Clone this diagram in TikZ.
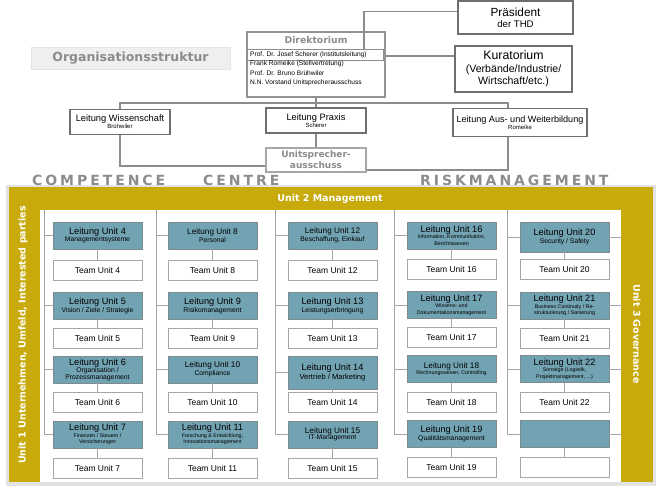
\documentclass[tikz,border=0pt]{standalone}
\usepackage{fontspec}
\setmainfont{Liberation Sans}
\newfontfamily\headfont{DejaVu Sans}
\newfontfamily\spacedfont{DejaVu Sans}[LetterSpace=21]

\definecolor{unitgold}{HTML}{C8AA0C}
\definecolor{unitteal}{HTML}{72A3B2}
\definecolor{leitrand}{HTML}{7D8A90}
\definecolor{linegray}{HTML}{A6A6A6}
\definecolor{orgrand}{HTML}{6F6F6F}
\definecolor{headgray}{HTML}{8C8C8C}
\definecolor{shadowgray}{HTML}{E2E2E2}
\definecolor{titlebg}{HTML}{EFEFEF}

\tikzset{
  leitung/.style={draw=leitrand, fill=unitteal, line width=0.8pt, minimum width=89pt, minimum height=27pt, inner sep=0.5pt, align=center, font=\fontsize{6}{6.4}\selectfont},
  team/.style={draw=linegray, fill=white, line width=0.8pt, minimum width=89pt, minimum height=20pt, inner sep=0.5pt, font=\fontsize{8.5}{9}\selectfont},
  unitline/.style={draw=linegray, line width=0.8pt},
  orgbox/.style={draw=orgrand, fill=white, line width=1.2pt, align=center, inner sep=1pt},
  orgline/.style={draw=orgrand!80, line width=1.2pt},
  bandtext/.style={text=white, font=\headfont\bfseries\fontsize{9.5}{11}\selectfont},
  spacedtext/.style={anchor=west, inner sep=0pt, text=headgray, font=\spacedfont\bfseries\fontsize{14}{16}\selectfont}
}

\newcommand{\titletext}{\fontsize{9.2}{10}\selectfont}
\newcommand{\smalltitle}{\fontsize{8.2}{9}\selectfont}
\newcommand{\subtext}{\fontsize{6.8}{7.5}\selectfont}
\newcommand{\tinytext}{\fontsize{5.3}{6}\selectfont}
\newcommand{\leitungnode}[4][]{\node at (#2) (#3) [leitung, #1] {#4};}
\newcommand{\teamnode}[3]{\node at (#1) (#2) [team] {#3};}
\newcommand{\unitlink}[2]{\draw [unitline] (#1) -- (#2);}
\newcommand{\unitbranch}[2]{\draw [unitline] (#1.west) -- (#1.west -| #2);}

\begin{document}
\begin{tikzpicture}[x=1pt, y=-1pt]
\useasboundingbox (0,0) rectangle (658,488);

% top: board and its leaders
\node at (130.5,58) (orgtitle) [fill=titlebg, draw=titlebg!90!gray, minimum width=199pt, minimum height=22pt, text=headgray, font=\headfont\bfseries\fontsize{12.5}{14}\selectfont] {Organisationsstruktur};

\node at (316,64.5) (dir) [orgbox, draw=orgrand!75, minimum width=138pt, minimum height=65pt] {};
\node at (316,40.5) (dirtitle) [text=headgray, font=\headfont\bfseries\fontsize{9.3}{11}\selectfont] {Direktorium};
\draw [orgline, line width=0.9pt] (247,49) rectangle (383,60.5);
\node at (250,51.5) (dirmembers) [anchor=north west, align=left, inner sep=0pt, font=\fontsize{6.6}{9.3}\selectfont] {Prof. Dr. Josef Scherer (Institutsleitung)\\Frank Romeike (Stellvertretung)\\Prof. Dr. Bruno Brühwiler\\N.N. Vorstand Unitsprecherausschuss};
\coordinate (dirhead) at (364,49);

\node at (515.5,17.5) (praes) [orgbox, minimum width=115pt, minimum height=33pt, font=\fontsize{9.6}{11}\selectfont] {{\fontsize{11.8}{13}\selectfont Präsident}\\der THD};
\node at (513.5,69) (kura) [orgbox, minimum width=117pt, minimum height=46pt, font=\fontsize{10.6}{12.5}\selectfont] {{\fontsize{12.3}{13}\selectfont Kuratorium}\\(Verbände/Industrie/\\Wirtschaft/etc.)};

\node at (120,122) (wiss) [orgbox, minimum width=100pt, minimum height=25pt, font=\fontsize{6}{7}\selectfont] {{\fontsize{9.3}{10}\selectfont Leitung Wissenschaft}\\Brühwiler};
\node at (316,120.5) (praxis) [orgbox, minimum width=100pt, minimum height=25pt, font=\fontsize{6}{7}\selectfont] {{\fontsize{9.3}{10}\selectfont Leitung Praxis}\\Scherer};
\node at (520,122.5) (aus) [orgbox, minimum width=134pt, minimum height=28pt, font=\fontsize{6}{7}\selectfont] {{\fontsize{9.1}{10}\selectfont Leitung Aus- und Weiterbildung}\\Romeike};
\node at (316,160) (sprecher) [orgbox, draw=linegray, minimum width=100pt, minimum height=24pt, text=headgray, font=\headfont\bfseries\fontsize{9}{11}\selectfont] {Unitsprecher-\\ausschuss};
\coordinate (split) at (316,103);

\draw [orgline] ([yshift=6pt]praes.west) -| (dirhead);
\draw [orgline] ([yshift=8.5pt]dir.east) -- ([yshift=8.5pt]dir.east -| kura.west);
\draw [orgline] (dir.south) -- (praxis.north);
\draw [orgline] (wiss.north) |- (split) -| ([xshift=-12pt]aus.north);
\draw [orgline] (praxis.south) -- (sprecher.north);
\draw [orgline] (wiss.south) |- ([yshift=-6pt]sprecher.west);
\draw [orgline] ([xshift=-12pt]aus.south) |- ([yshift=-10pt]sprecher.east);

\node at (32,180.5) (wcompetence) [spacedtext] {COMPETENCE};
\node at (203,180.5) (wcentre) [spacedtext] {CENTRE};
\node at (420,180.5) (wrisk) [spacedtext] {RISKMANAGEMENT};

% frame of the units
\fill [shadowgray] (6,185) rectangle (656,486);
\fill [unitgold] (9,187) rectangle (653,482);
\fill [white] (40,210) rectangle (621,482);
\node at (330,198.5) (mgmt) [bandtext] {Unit 2 Management};
\node at (23,335) (umfeld) [bandtext, rotate=90] {Unit 1 Unternehmen, Umfeld, Interested parties};
\node at (637,334) (gov) [bandtext, rotate=-90] {Unit 3 Governance};

\coordinate (trunkA) at (44,210);
\coordinate (trunkB) at (156,210);
\coordinate (trunkC) at (275,210);
\coordinate (trunkD) at (394,210);
\coordinate (trunkE) at (507,210);
\coordinate (govedge) at (622,210);

% column 1
\leitungnode{97.5,235.5}{L4}{\titletext Leitung Unit 4\\\subtext Managementsysteme}
\teamnode{97.5,270}{T4}{Team Unit 4}
\leitungnode{97.5,305.5}{L5}{\titletext Leitung Unit 5\\\subtext Vision / Ziele / Strategie}
\teamnode{97.5,338}{T5}{Team Unit 5}
\leitungnode{97.5,369.5}{L6}{\titletext Leitung Unit 6\\\subtext Organisation /\\\subtext Prozessmanagement}
\teamnode{97.5,402}{T6}{Team Unit 6}
\leitungnode{97.5,434.5}{L7}{\titletext Leitung Unit 7\\\tinytext Finanzen / Steuern /\\\tinytext Versicherungen}
\teamnode{97.5,468}{T7}{Team Unit 7}

% column 2
\leitungnode{212.5,235.5}{L8}{\smalltitle Leitung Unit 8\\\subtext Personal}
\teamnode{212.5,270}{T8}{Team Unit 8}
\leitungnode{212.5,305.5}{L9}{\titletext Leitung Unit 9\\\subtext Risikomanagement}
\teamnode{212.5,338}{T9}{Team Unit 9}
\leitungnode{212.5,369.5}{L10}{\smalltitle Leitung Unit 10\\\subtext Compliance}
\teamnode{212.5,402}{T10}{Team Unit 10}
\leitungnode{212.5,434.5}{L11}{\titletext Leitung Unit 11\\\tinytext Forschung \& Entwicklung,\\\tinytext Innovationsmanagement}
\teamnode{212.5,468}{T11}{Team Unit 11}

% column 3
\leitungnode{332.5,235.5}{L12}{\smalltitle Leitung Unit 12\\\subtext Beschaffung, Einkauf}
\teamnode{332.5,270}{T12}{Team Unit 12}
\leitungnode{332.5,305.5}{L13}{\titletext Leitung Unit 13\\\subtext Leistungserbringung}
\teamnode{332.5,338}{T13}{Team Unit 13}
\leitungnode[minimum height=33pt]{332.5,372.5}{L14}{\titletext Leitung Unit 14\\\fontsize{7.6}{8}\selectfont Vertrieb / Marketing}
\teamnode{332.5,402.5}{T14}{Team Unit 14}
\leitungnode{332.5,434.5}{L15}{\smalltitle Leitung Unit 15\\\subtext IT-Management}
\teamnode{332.5,468}{T15}{Team Unit 15}

% column 4
\leitungnode{451.5,235.5}{L16}{\titletext Leitung Unit 16\\\tinytext Information, Kommunikation,\\\tinytext Berichtswesen}
\teamnode{451.5,269.5}{T16}{Team Unit 16}
\leitungnode{451.5,305}{L17}{\titletext Leitung Unit 17\\\tinytext Wissens- und\\\tinytext Dokumentationsmanagement}
\teamnode{451.5,337.5}{T17}{Team Unit 17}
\leitungnode{451.5,369}{L18}{\smalltitle Leitung Unit 18\\\tinytext Rechnungswesen, Controlling}
\teamnode{451.5,402}{T18}{Team Unit 18}
\leitungnode{451.5,434}{L19}{\titletext Leitung Unit 19\\\subtext Qualitätsmanagement}
\teamnode{451.5,467.5}{T19}{Team Unit 19}

% column 5
\leitungnode[minimum height=30pt]{564.5,237}{L20}{\titletext Leitung Unit 20\\\subtext Security / Safety}
\teamnode{564.5,269.5}{T20}{Team Unit 20}
\leitungnode{564.5,305.5}{L21}{\titletext Leitung Unit 21\\\tinytext Business Continuity / Re-\\\tinytext strukturierung / Sanierung}
\teamnode{564.5,338}{T21}{Team Unit 21}
\leitungnode{564.5,369}{L22}{\titletext Leitung Unit 22\\\tinytext Sonstige (Logistik,\\\tinytext Projektmanagement, ...)}
\teamnode{564.5,402}{T22}{Team Unit 22}
\leitungnode{564.5,434}{Lfree}{}
\teamnode{564.5,467.5}{Tfree}{}

% links
\foreach \n in {4,...,22} {\unitlink{L\n}{T\n}}
\unitlink{Lfree}{Tfree}

\draw [unitline] (trunkA) -- (trunkA |- L7.west);
\draw [unitline] (trunkB) -- (trunkB |- L11.west);
\draw [unitline] (trunkC) -- (trunkC |- L15.west);
\draw [unitline] (trunkD) -- (trunkD |- L19.west);
\draw [unitline] (trunkE) -- (trunkE |- Lfree.west);
\foreach \n in {4,5,6,7} {\unitbranch{L\n}{trunkA}}
\foreach \n in {8,9,10,11} {\unitbranch{L\n}{trunkB}}
\foreach \n in {12,13,14,15} {\unitbranch{L\n}{trunkC}}
\foreach \n in {16,17,18,19} {\unitbranch{L\n}{trunkD}}
\foreach \n in {20,21,22,free} {\unitbranch{L\n}{trunkE}}
\foreach \n in {20,21,22,free} {\draw [unitline] (L\n.east) -- (L\n.east -| govedge);}
\end{tikzpicture}
\end{document}
